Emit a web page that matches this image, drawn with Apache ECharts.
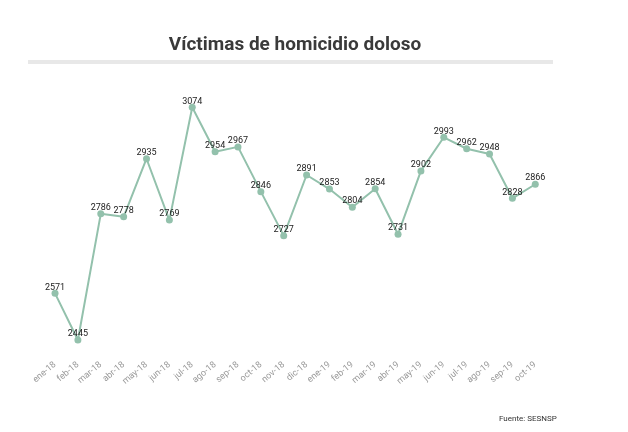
<!DOCTYPE html>
<html>
<head>
<meta charset="utf-8">
<script src="https://cdn.jsdelivr.net/npm/echarts@6/dist/echarts.min.js"></script>
<style>
  html, body { margin: 0; padding: 0; background: #fff; }
  #chart { width: 628px; height: 432px; }
</style>
</head>
<body>
<div id="chart"></div>
<script>
// meses (ene-18 .. oct-19)
const months = [
  'ene-18', 'feb-18', 'mar-18', 'abr-18', 'may-18', 'jun-18', 'jul-18', 'ago-18',
  'sep-18', 'oct-18', 'nov-18', 'dic-18', 'ene-19', 'feb-19', 'mar-19', 'abr-19',
  'may-19', 'jun-19', 'jul-19', 'ago-19', 'sep-19', 'oct-19'
]
// víctimas de homicidio doloso por mes
const victims = [
  2571, 2445, 2786, 2778, 2935, 2769, 3074, 2954, 2967, 2846, 2727,
  2891, 2853, 2804, 2854, 2731, 2902, 2993, 2962, 2948, 2828, 2866
]
const yMin = 2400
const yMax = 3100

const chart = echarts.init(document.getElementById('chart'))

const option = {
  animation: false,
  title: {
    text: 'Víctimas de homicidio doloso',
    left: 290,
    top: 31,
    textAlign: 'center',
    textStyle: {
      fontFamily: 'Roboto',
      fontSize: 19,
      fontWeight: 'bold',
      color: '#3a3a3a'
    }
  },
  graphic: [
    {
      type: 'rect',
      shape: { x: 28, y: 60, width: 525, height: 4 },
      style: { fill: '#e8e8e8' }
    },
    {
      type: 'text',
      left: 499,
      top: 415,
      style: {
        text: 'Fuente: SESNSP',
        font: '8px Roboto',
        fill: '#333'
      }
    }
  ],
  grid: {
    left: 43.6,
    right: 81.3,
    top: 97.7,
    bottom: 75.4
  },
  xAxis: {
    type: 'category',
    data: months,
    boundaryGap: true,
    axisLine: { show: false },
    axisTick: { show: false },
    axisLabel: {
      rotate: 40,
      interval: 0,
      margin: 7,
      fontFamily: 'Roboto',
      fontSize: 9,
      color: '#999'
    }
  },
  yAxis: {
    type: 'value',
    min: yMin,
    max: yMax,
    show: false,
    splitLine: { show: false }
  },
  series: [
    {
      type: 'line',
      data: victims,
      symbol: 'circle',
      symbolSize: 7,
      lineStyle: { color: '#93c1ac', width: 2 },
      itemStyle: { color: '#93c1ac' },
      label: {
        show: true,
        position: 'top',
        distance: -2,
        fontFamily: 'Roboto',
        fontSize: 9,
        color: '#222'
      }
    }
  ]
}

chart.setOption(option)
</script>
</body>
</html>
